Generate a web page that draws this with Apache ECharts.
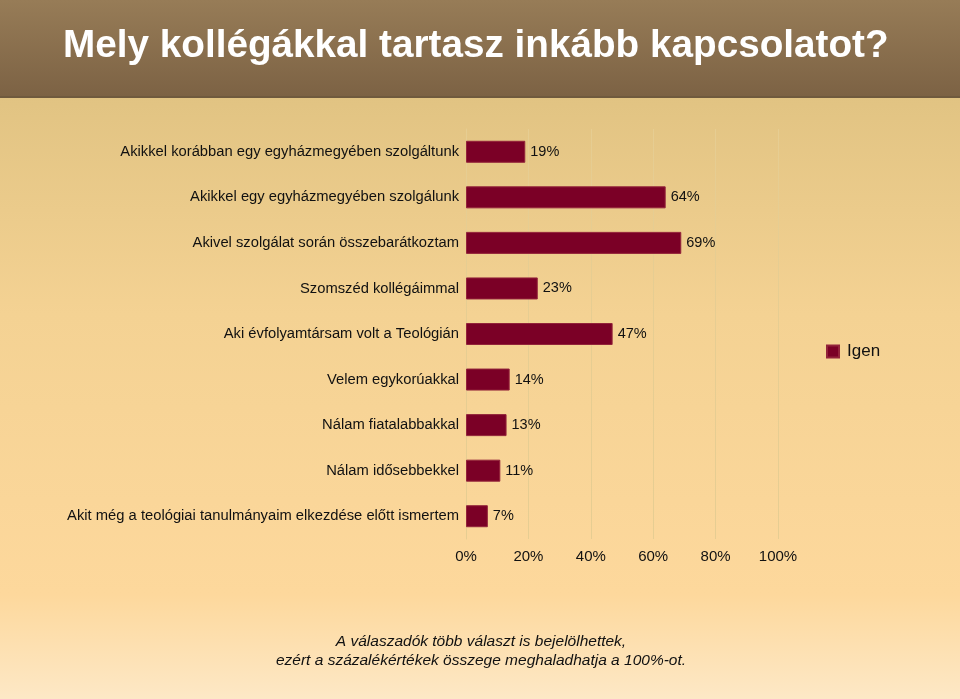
<!DOCTYPE html>
<html>
<head>
<meta charset="utf-8">
<script src="https://cdn.jsdelivr.net/npm/echarts@6/dist/echarts.min.js"></script>
<style>
  html, body { margin: 0; padding: 0; }
  #chart { width: 960px; height: 699px; }
</style>
</head>
<body>
<div id="chart"></div>
<script>
var categories = [
    'Akikkel korábban egy egyházmegyében szolgáltunk',
    'Akikkel egy egyházmegyében szolgálunk',
    'Akivel szolgálat során összebarátkoztam',
    'Szomszéd kollégáimmal',
    'Aki évfolyamtársam volt a Teológián',
    'Velem egykorúakkal',
    'Nálam fiatalabbakkal',
    'Nálam idősebbekkel',
    'Akit még a teológiai tanulmányaim elkezdése előtt ismertem'
];
var igen = [19, 64, 69, 23, 47, 14, 13, 11, 7];
var xTicks = [0, 20, 40, 60, 80, 100];

var title = 'Mely kollégákkal tartasz inkább kapcsolatot?';
var note = 'A válaszadók több választ is bejelölhettek,\nezért a százalékértékek összege meghaladhatja a 100%-ot.';

var chart = echarts.init(document.getElementById('chart'));

var option = {
    backgroundColor: {
        type: 'linear', x: 0, y: 0, x2: 0, y2: 1,
        colorStops: [
            {offset: 0, color: '#d9bd7b'},
            {offset: 0.45, color: '#f4d293'},
            {offset: 0.85, color: '#fdd89c'},
            {offset: 1, color: '#fde8c6'}
        ]
    },
    animation: false,
    textStyle: {fontFamily: 'Liberation Sans, Arial, sans-serif'},
    graphic: [
        {
            type: 'rect',
            shape: {x: 0, y: 0, width: 960, height: 97},
            style: {
                fill: {
                    type: 'linear', x: 0, y: 0, x2: 0, y2: 1,
                    colorStops: [
                        {offset: 0, color: '#977c57'},
                        {offset: 1, color: '#7c6244'}
                    ]
                }
            }
        },
        {
            type: 'rect',
            shape: {x: 0, y: 96, width: 960, height: 2},
            style: {fill: '#6f5a3e'}
        },
        {
            type: 'text',
            x: 63,
            y: 27,
            style: {
                text: title,
                fill: '#ffffff',
                verticalAlign: 'top',
                font: 'bold 38.7px "Liberation Sans", Arial, sans-serif'
            }
        },
        {
            type: 'text',
            x: 481,
            y: 632,
            style: {
                text: note,
                fill: '#111111',
                align: 'center',
                verticalAlign: 'top',
                lineHeight: 19,
                font: 'italic 15.5px "Liberation Sans", Arial, sans-serif'
            }
        }
    ],
    legend: {
        data: ['Igen'],
        left: 821,
        top: 338,
        itemWidth: 12,
        itemHeight: 12,
        icon: 'rect',
        textStyle: {fontSize: 17, color: '#111', padding: [0, 0, 0, 3]}
    },
    grid: {
        left: 466,
        right: 182,
        top: 129,
        bottom: 160,
        containLabel: false
    },
    xAxis: {
        type: 'value',
        min: 0,
        max: 100,
        interval: 20,
        axisLine: {show: false},
        axisTick: {show: false},
        axisLabel: {
            formatter: function (v) { return xTicks.indexOf(v) >= 0 ? v + '%' : ''; },
            fontSize: 15,
            color: '#111',
            margin: 10
        },
        splitLine: {lineStyle: {color: '#e6cd92', width: 1}}
    },
    yAxis: {
        type: 'category',
        data: categories,
        inverse: true,
        axisLine: {show: true, lineStyle: {color: '#e6cd92'}},
        axisTick: {show: false},
        axisLabel: {fontSize: 14.75, color: '#111', margin: 7}
    },
    series: [{
        name: 'Igen',
        type: 'bar',
        data: igen,
        barWidth: 22,
        itemStyle: {color: '#7b0026', borderColor: '#93233a', borderWidth: 1},
        label: {
            show: true,
            position: 'right',
            formatter: '{c}%',
            fontSize: 14.5,
            color: '#111',
            distance: 5
        }
    }]
};

chart.setOption(option);
</script>
</body>
</html>
